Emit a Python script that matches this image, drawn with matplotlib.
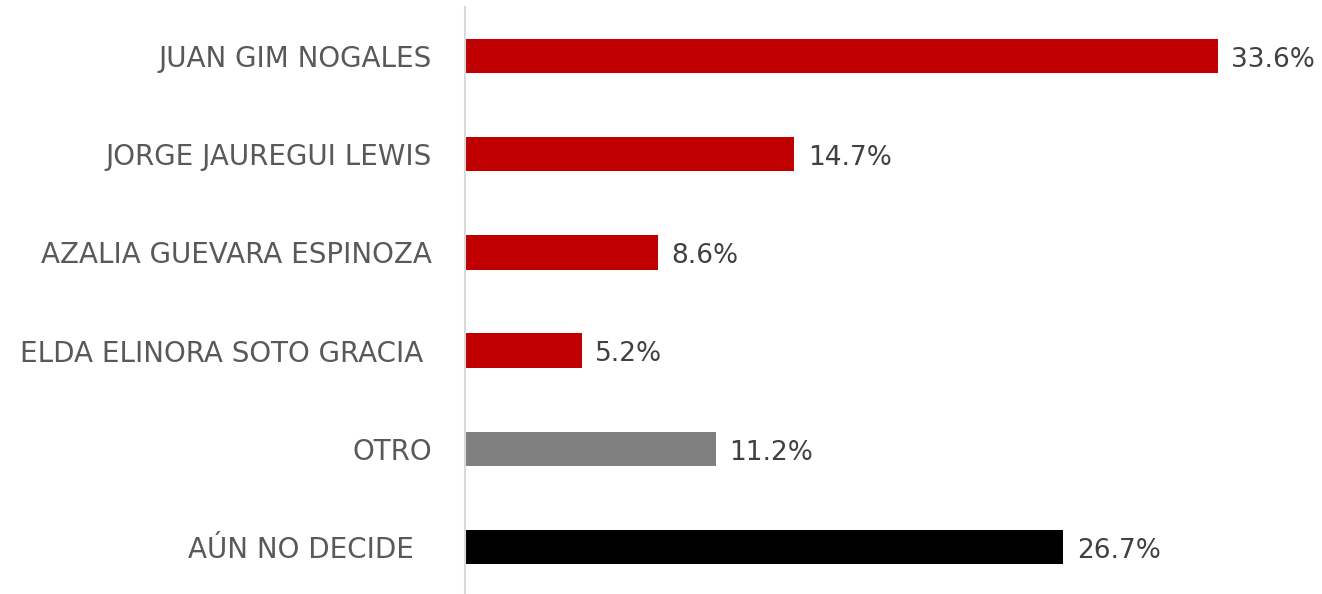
import matplotlib
matplotlib.use("Agg")
import matplotlib.pyplot as plt

candidatos = ["JUAN GIM NOGALES", "JORGE JAUREGUI LEWIS", "AZALIA GUEVARA ESPINOZA",
              "ELDA ELINORA SOTO GRACIA\u00a0", "OTRO", "AÚN NO DECIDE\u00a0\u00a0"]
valores = [33.6, 14.7, 8.6, 5.2, 11.2, 26.7]
colores = ["#C00000", "#C00000", "#C00000", "#C00000", "#808080", "#000000"]

plt.rcParams['font.family'] = ['DejaVu Sans']

fig = plt.figure(figsize=(13.22, 5.94), dpi=100)
ax = fig.add_axes([465/1322, 0.0, (1300-465)/1322, 1 - 7/594])

y = list(range(len(candidatos)))
ax.barh(y, valores, height=0.35, color=colores)
for yi, v in zip(y, valores):
    ax.text(v + 0.6, yi + 0.04, f"{v:.1f}%", va="center", ha="left",
            fontsize=19, color="#404040")

ax.set_yticks(y)
ax.set_yticklabels(candidatos, fontsize=20, color="#595959")
ax.tick_params(axis="y", length=0, pad=24)
ax.set_xticks([])
ax.set_xlim(0, (1300-465)/22.41)
ax.set_ylim(5.48, -0.5)
for s in ["top", "right", "bottom"]:
    ax.spines[s].set_visible(False)
ax.spines["left"].set_color("#D9D9D9")
ax.spines["left"].set_linewidth(1.5)

fig.savefig("out.png", dpi=100)
